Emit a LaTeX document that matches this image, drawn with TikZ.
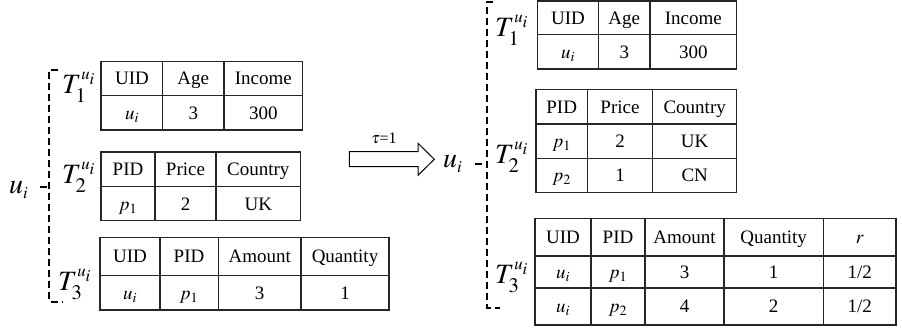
\documentclass[tikz,border=0pt]{standalone}
\usepackage{mathptmx}
\usepackage{fontspec}
\setmainfont{Liberation Serif}
\usepackage{tikz}
\tikzset{
tabline/.style = {line width = 1.2pt, draw = black!85},
celltext/.style = {font = \fontsize{19}{22}\selectfont, inner sep = 0pt, text height = 13pt, text depth = 0pt},
biglabel/.style = {font = \fontsize{28}{30}\selectfont, inner sep = 0pt, anchor = base west},
brline/.style = {line width = 1.8pt, dash pattern = on 7pt off 4pt}
}
\newcommand{\tgrid}[6]{
\draw[tabline] (#1,#3) rectangle (#2,#4);
\foreach \c in {#5} {\draw[tabline] (\c,#3) -- (\c,#4);}
\foreach \r in {#6} {\draw[tabline] (#1,\r) -- (#2,\r);}
}
\newcommand{\trow}[3]{
\foreach \x/\t [count=\i] in {#3}
	{\node[celltext] (#1\i) at (\x,#2) {\t};}
}
\begin{document}
\begin{tikzpicture}[x = 1pt, y = -1pt]
\useasboundingbox (0,0) rectangle (902,328);

\tgrid{101}{302.7}{61.3}{130}{162.7,224}{95.3};
\trow{lah}{78.3}{132/UID, 193.3/Age, 263.3/Income};
\trow{lar}{112.7}{132/$u_i$, 193.3/3, 263.3/300};

\tgrid{101}{300.7}{152}{220.7}{155,216}{186.7};
\trow{lbh}{169.3}{128/PID, 185.5/Price, 258.3/Country};
\trow{lbr}{203.7}{128/$p_1$, 185.5/2, 258.3/UK};

\tgrid{100}{389}{237.3}{310}{160,218.3,301}{275.7};
\trow{lch}{256.5}{130/UID, 189/PID, 259.7/Amount, 345/Quantity};
\trow{lcr}{292.8}{130/$u_i$, 189/$p_1$, 259.7/3, 345/1};

\tgrid{537.3}{736.7}{1}{69}{598.7,650}{34.3};
\trow{rah}{17.7}{568/UID, 624.3/Age, 693.3/Income};
\trow{rar}{51.7}{568/$u_i$, 624.3/3, 693.3/300};

\tgrid{536}{736.7}{89.3}{192.3}{587.3,652.7}{124,158.3};
\trow{rbh}{106.7}{561.7/PID, 620/Price, 694.7/Country};
\trow{rbr}{141.2}{561.7/$p_1$, 620/2, 694.7/UK};
\trow{rbs}{175.3}{561.7/$p_2$, 620/1, 694.7/CN};

\tgrid{535}{896}{218.3}{325}{591,645,724,823.3}{256,288};
\trow{rch}{237.2}{563/UID, 618/PID, 684.5/Amount, 773.7/Quantity, 859.7/$r$};
\trow{rcr}{272}{563/$u_i$, 618/$p_1$, 684.5/3, 773.7/1, 859.7/{1/2}};
\trow{rcs}{306.5}{563/$u_i$, 618/$p_2$, 684.5/4, 773.7/2, 859.7/{1/2}};

\node[biglabel] (lu) at (9,194) {$u_{\scriptscriptstyle i}$};
\node[biglabel] (lt1) at (62,94) {$T^{\scriptscriptstyle u_i}_1$};
\node[biglabel] (lt2) at (62,184) {$T^{\scriptscriptstyle u_i}_2$};
\node[biglabel] (lt3) at (58,291) {$T^{\scriptscriptstyle u_i}_3$};

\node[biglabel] (ru) at (443,168) {$u_{\scriptscriptstyle i}$};
\node[biglabel] (rt1) at (495,37) {$T^{\scriptscriptstyle u_i}_1$};
\node[biglabel] (rt2) at (495,164) {$T^{\scriptscriptstyle u_i}_2$};
\node[biglabel] (rt3) at (495,284) {$T^{\scriptscriptstyle u_i}_3$};

\draw[brline] (58,70) -- (49.3,70) -- (49.3,301.7) -- (62,301.7);
\draw[brline] (40,187) -- (49.3,187);
\draw[brline] (493,2) -- (487.3,2) -- (487.3,308) -- (500,308);
\draw[brline] (475,164) -- (487.3,164);

\draw[line width = 1pt] (349.3,151.7) -- (418,151.7) -- (418,143.3) -- (434.3,159.3) -- (418,175.3) -- (418,166.7) -- (349.3,166.7) -- cycle;
\node[celltext, font = \fontsize{16}{18}\selectfont] (tau) at (384,137) {$\tau$=1};
\end{tikzpicture}
\end{document}
